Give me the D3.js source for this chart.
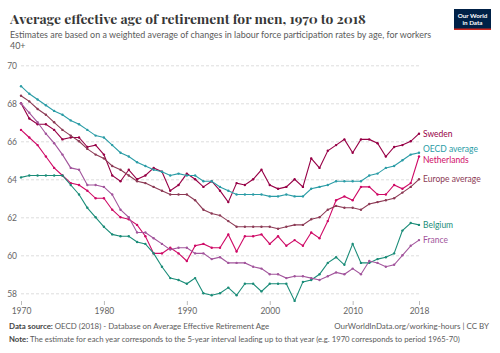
<!DOCTYPE html>
<html>
<head>
<meta charset="utf-8">
<script src="https://cdn.jsdelivr.net/npm/d3@7"></script>
<style>
  body { margin: 0; background: #fff; }
  svg { display: block; font-family: Lato, "Noto Sans", sans-serif; }
</style>
</head>
<body>
<svg id="chart" width="500" height="353"></svg>
<script>
// values, one per year 1970..2018
var years = d3.range(1970, 2019)
var yTicks = [58, 60, 62, 64, 66, 68, 70]
var xTicks = [1970, 1980, 1990, 2000, 2010, 2018]

var sweden = [68.0, 67.2, 66.9, 66.9, 66.6, 66.1, 66.2, 66.2, 65.7, 65.8,
              65.3, 64.2, 63.9, 64.5, 64.0, 64.2, 64.6, 64.4, 63.4, 63.7,
              64.3, 64.0, 63.6, 63.9, 63.4, 62.8, 63.8, 63.7, 64.0, 64.5,
              63.7, 63.5, 63.6, 64.0, 63.6, 65.1, 64.6, 65.5, 65.8, 66.1,
              65.4, 66.1, 66.1, 65.9, 65.2, 65.7, 65.8, 66.0, 66.4]
var oecd = [68.9, 68.5, 68.2, 67.9, 67.6, 67.4, 67.1, 66.9, 66.6, 66.3,
            66.2, 65.8, 65.4, 65.2, 64.9, 64.7, 64.5, 64.4, 64.2, 64.3,
            64.2, 64.2, 63.9, 63.9, 63.6, 63.4, 63.2, 63.2, 63.2, 63.2,
            63.1, 63.1, 63.2, 63.1, 63.1, 63.5, 63.6, 63.7, 63.9, 63.9,
            63.9, 63.9, 64.2, 64.3, 64.6, 64.7, 65.0, 65.3, 65.4]
var netherlands = [66.6, 66.2, 65.8, 65.2, 64.6, 64.2, 63.8, 63.7, 63.4, 63.0,
                   63.0, 62.4, 62.0, 61.9, 61.6, 61.0, 60.1, 60.1, 60.4, 60.1,
                   59.7, 60.5, 60.6, 60.4, 60.4, 61.1, 60.2, 61.0, 61.0, 61.1,
                   60.6, 61.0, 60.5, 60.8, 60.5, 61.2, 60.9, 61.8, 62.9, 63.1,
                   62.9, 63.6, 63.6, 63.2, 63.2, 63.7, 63.5, 63.8, 65.2]
var europe = [68.4, 68.1, 67.7, 67.4, 67.0, 66.6, 66.3, 66.0, 65.6, 65.3,
              65.1, 64.7, 64.5, 64.2, 63.9, 63.8, 63.6, 63.4, 63.2, 63.2,
              63.2, 62.9, 62.4, 62.2, 62.1, 61.8, 61.5, 61.5, 61.5, 61.5,
              61.5, 61.4, 61.5, 61.6, 61.6, 61.9, 62.0, 62.4, 62.6, 62.5,
              62.5, 62.4, 62.7, 62.8, 62.9, 63.0, 63.3, 63.6, 64.0]
var belgium = [64.1, 64.2, 64.2, 64.2, 64.2, 64.2, 63.7, 63.2, 62.5, 62.0,
               61.5, 61.1, 61.0, 61.0, 60.7, 60.6, 60.1, 59.4, 58.8, 58.7,
               58.5, 58.8, 58.0, 57.9, 58.0, 58.3, 57.9, 58.5, 58.5, 58.1,
               58.5, 58.5, 58.5, 57.6, 58.6, 58.7, 59.0, 59.6, 59.9, 59.5,
               60.6, 59.6, 59.6, 59.8, 59.9, 60.1, 61.3, 61.7, 61.6]
var france = [68.0, 67.5, 67.0, 66.4, 65.9, 65.3, 64.6, 64.5, 63.7, 63.7,
              63.6, 63.2, 62.4, 62.0, 61.2, 61.2, 60.9, 60.6, 60.3, 60.4,
              60.4, 60.1, 60.1, 59.8, 59.9, 59.6, 59.6, 59.6, 59.4, 59.3,
              59.0, 59.0, 58.8, 58.9, 58.9, 58.8, 58.7, 58.9, 59.1, 59.0,
              59.3, 59.0, 59.7, 59.6, 59.4, 59.5, 60.0, 60.5, 60.8]

var seriesNames = ['Sweden', 'OECD average', 'Netherlands', 'Europe average', 'Belgium', 'France']
var seriesValues = [sweden, oecd, netherlands, europe, belgium, france]
var seriesColors = ['#970046', '#2a9ca6', '#cf0a66', '#8c3a55', '#1a8c78', '#a2559c']

var svg = d3.select('#chart')

var fitWidth = function(sel, target) {
    var len = sel.node().getComputedTextLength()
    var size = parseFloat(sel.attr('font-size'))
    sel.attr('font-size', size * target / len)
}

// header
var title = svg.append('text')
    .attr('x', 10).attr('y', 24)
    .attr('font-family', '"Playfair Display", Georgia, "Liberation Serif", serif')
    .attr('font-weight', 'bold')
    .attr('font-size', 17)
    .attr('fill', '#373737')
    .text('Average effective age of retirement for men, 1970 to 2018')
fitWidth(title, 356)

var sub1 = svg.append('text')
    .attr('x', 10).attr('y', 38)
    .attr('font-size', 10)
    .attr('fill', '#5b5b5b')
    .text('Estimates are based on a weighted average of changes in labour force participation rates by age, for workers')
fitWidth(sub1, 422)
svg.append('text')
    .attr('x', 10).attr('y', 49)
    .attr('font-size', sub1.attr('font-size'))
    .attr('fill', '#5b5b5b')
    .text('40+')

// logo
var logo = svg.append('g')
logo.append('rect').attr('x', 454).attr('y', 9).attr('width', 37).attr('height', 21).attr('fill', '#002147')
logo.append('rect').attr('x', 454).attr('y', 28.5).attr('width', 37).attr('height', 1.5).attr('fill', '#ce261e')
logo.append('text').attr('x', 472.5).attr('y', 17.5).attr('text-anchor', 'middle')
    .attr('font-size', 6.3).attr('font-weight', 'bold').attr('fill', '#fff').text('Our World')
logo.append('text').attr('x', 472.5).attr('y', 24.5).attr('text-anchor', 'middle')
    .attr('font-size', 6.3).attr('font-weight', 'bold').attr('fill', '#fff').text('in Data')

// scales
var x = d3.scaleLinear().domain([1970, 2018]).range([21, 419])
var y = d3.scaleLinear().domain([58, 70]).range([293.3, 65.3])

// y grid + labels
var yAxis = d3.axisLeft(y).tickValues(yTicks).tickSize(-(x.range()[1] - x.range()[0])).tickPadding(4)
var gy = svg.append('g').attr('transform', 'translate(' + x.range()[0] + ',0)').call(yAxis)
gy.select('.domain').remove()
gy.selectAll('.tick line').attr('stroke', '#dddddd').attr('stroke-dasharray', '3,2')
gy.selectAll('.tick text').attr('fill', '#666').attr('font-size', 8.5).attr('font-family', 'Lato, sans-serif')

// x ticks
var xAxis = d3.axisBottom(x).tickValues(xTicks).tickFormat(d3.format('d')).tickSize(4).tickPadding(3)
var gx = svg.append('g').attr('transform', 'translate(0,301)').call(xAxis)
gx.select('.domain').remove()
gx.selectAll('.tick line').attr('stroke', '#bbb')
gx.selectAll('.tick text').attr('fill', '#666').attr('font-size', 8.5).attr('font-family', 'Lato, sans-serif')

// lines
var line = d3.line()
    .x(function(d, i) { return x(years[i]) })
    .y(function(d) { return y(d) })

seriesValues.forEach(function(vals, s) {
    svg.append('path')
        .attr('d', line(vals))
        .attr('fill', 'none')
        .attr('stroke', seriesColors[s])
        .attr('stroke-width', 1.1)
    svg.append('g').selectAll('circle')
        .data(vals)
        .enter().append('circle')
        .attr('cx', function(d, i) { return x(years[i]) })
        .attr('cy', function(d) { return y(d) })
        .attr('r', 1.2)
        .attr('fill', seriesColors[s])
})

// end labels, pushed apart so they do not overlap
var labels = seriesNames.map(function(name, s) {
    var vals = seriesValues[s]
    return {name: name, color: seriesColors[s], ly: y(vals[vals.length - 1])}
})
labels.sort(function(a, b) { return a.ly - b.ly })
for (var iter = 0; iter < 30; iter++) {
    for (var k = 1; k < labels.length; k++) {
        var gap = labels[k].ly - labels[k - 1].ly
        if (gap < 10.5) {
            var push = (10.5 - gap) / 2
            labels[k].ly += push
            labels[k - 1].ly -= push
        }
    }
}
svg.append('g').selectAll('text')
    .data(labels)
    .enter().append('text')
    .attr('x', 423)
    .attr('y', function(d) { return d.ly })
    .attr('dy', '0.35em')
    .attr('font-size', 8.5)
    .attr('fill', function(d) { return d.color })
    .text(function(d) { return d.name })

// footer
var src = svg.append('text').attr('x', 9).attr('y', 329).attr('font-size', 7.5).attr('fill', '#5b5b5b')
src.append('tspan').attr('font-weight', 'bold').attr('fill', '#444').text('Data source: ')
src.append('tspan').text('OECD (2018) - Database on Average Effective Retirement Age')
fitWidth(src, 261)

var url = svg.append('text').attr('x', 489).attr('y', 329).attr('text-anchor', 'end')
    .attr('font-size', 7.5).attr('fill', '#5b5b5b')
    .text('OurWorldInData.org/working-hours | CC BY')
fitWidth(url, 155)

var note = svg.append('text').attr('x', 9).attr('y', 341.5).attr('font-size', 7.5).attr('fill', '#5b5b5b')
note.append('tspan').attr('font-weight', 'bold').attr('fill', '#444').text('Note: ')
note.append('tspan').text('The estimate for each year corresponds to the 5-year interval leading up to that year (e.g. 1970 corresponds to period 1965-70)')
fitWidth(note, 451)
</script>
</body>
</html>
